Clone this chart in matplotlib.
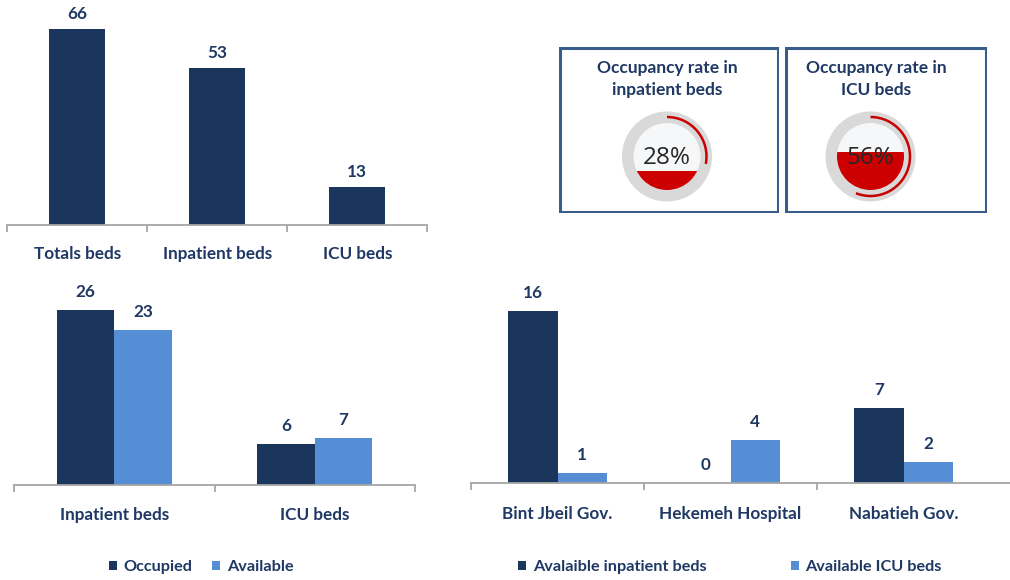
import matplotlib
matplotlib.use("Agg")
import matplotlib.pyplot as plt
from matplotlib.patches import Circle, Rectangle, Arc, Patch
import numpy as np

plt.rcParams['font.family'] = ['Lato', 'DejaVu Sans']

# ---------------- data ----------------
totals_cats = ["Totals beds", "Inpatient beds", "ICU beds"]
totals_vals = [66, 53, 13]

occ_cats = ["Inpatient beds", "ICU beds"]
occupied = [26, 6]
available = [23, 7]
occ_legend = ["Occupied", "Available"]

hosp_cats = ["Bint Jbeil Gov.", "Hekemeh Hospital", "Nabatieh Gov."]
avail_inpatient = [16, 0, 7]
avail_icu = [1, 4, 2]
hosp_legend = ["Avalaible inpatient beds", "Available ICU beds"]

gauge_titles = ["Occupancy rate in\ninpatient beds", "Occupancy rate in\nICU beds"]
gauge_pcts = [28, 56]

# ---------------- style ----------------
NAVY = "#1B365D"
LIGHT = "#558ED5"
TXT = "#1F3864"
AXC = "#A6A6A6"
RED = "#C80000"
W, H = 1010, 580
FS = 12.3

fig = plt.figure(figsize=(W / 100, H / 100), dpi=100)


def px_axes(x0, x1, ybase, ytop):
    return fig.add_axes([x0 / W, (H - ybase) / H, (x1 - x0) / W, (ybase - ytop) / H])


def style_axes(ax, ncat, cats, pad, nminor=None):
    ax.set_xlim(-0.5, ncat - 0.5)
    for s in ["top", "right", "left"]:
        ax.spines[s].set_visible(False)
    ax.spines["bottom"].set_color(AXC)
    ax.spines["bottom"].set_linewidth(1.3)
    ax.set_yticks([])
    ax.set_xticks(range(ncat))
    ax.set_xticklabels(cats, fontsize=FS, fontweight="bold", color=TXT)
    ax.tick_params(axis="x", which="major", length=0, pad=pad)
    mt = np.arange(-0.5, ncat, 1.0)
    if nminor is not None:
        mt = mt[:nminor]
    ax.set_xticks(mt, minor=True)
    ax.tick_params(axis="x", which="minor", length=5, color=AXC, width=1.3)
    ax.patch.set_alpha(0)


def label_bars(ax, bars, vals, off):
    for b, v in zip(bars, vals):
        ax.annotate(str(v), (b.get_x() + b.get_width() / 2, b.get_height()),
                    xytext=(0, off), textcoords="offset pixels",
                    ha="center", va="center", fontsize=FS, fontweight="bold", color=TXT)


# ---- chart 1 ----
ax1 = px_axes(7.3, 427.3, 225.3, 225.3 - 70 * 2.97)
ax1.set_ylim(0, 70)
b1 = ax1.bar(range(3), totals_vals, width=0.4, color=NAVY)
label_bars(ax1, b1, totals_vals, 15)
style_axes(ax1, 3, totals_cats, 15)

# ---- chart 2 ----
ax2 = px_axes(14, 415, 484.7, 484.7 - 28 * 6.72)
ax2.set_ylim(0, 28)
x2 = np.arange(2)
bw2 = 0.287
b2a = ax2.bar(x2 - bw2 / 2, occupied, width=bw2, color=NAVY, label=occ_legend[0])
b2b = ax2.bar(x2 + bw2 / 2, available, width=bw2, color=LIGHT, label=occ_legend[1])
label_bars(ax2, b2a, occupied, 18)
label_bars(ax2, b2b, available, 18)
style_axes(ax2, 2, occ_cats, 16)

# ---- chart 3 ----
ax3 = px_axes(471, 990, 483.3, 483.3 - 17 * 10.75)
ax3.set_ylim(0, 17)
x3 = np.arange(3)
bw3 = 0.286
b3a = ax3.bar(x3 - bw3 / 2, avail_inpatient, width=bw3, color=NAVY, label=hosp_legend[0])
b3b = ax3.bar(x3 + bw3 / 2, avail_icu, width=bw3, color=LIGHT, label=hosp_legend[1])
label_bars(ax3, b3a, avail_inpatient, 18)
label_bars(ax3, b3b, avail_icu, 18)
style_axes(ax3, 3, hosp_cats, 16, nminor=3)
ax3.spines["bottom"].set_bounds(-0.5, 2.62)

# ---- legends ----
def make_legend(labels, x, y, colspacing):
    handles = [Patch(facecolor=NAVY, edgecolor="none"), Patch(facecolor=LIGHT, edgecolor="none")]
    leg = fig.legend(handles, labels, loc="center left", bbox_to_anchor=(x / W, (H - y) / H),
                     ncol=2, frameon=False, handlelength=0.5, handleheight=0.5,
                     handletextpad=0.4, columnspacing=colspacing, borderpad=0, borderaxespad=0,
                     prop={"size": 11.7, "weight": "bold"})
    for t in leg.get_texts():
        t.set_color(TXT)


make_legend(occ_legend, 109, 567, 1.2)
make_legend(hosp_legend, 518, 567, 5.2)

# ---- gauges ----
boxes = [(559, 779), (785, 987)]
centers = [(667, 156.5), (870.5, 156.5)]
title_x = [667, 876]
for (bx0, bx1), (cx, cy), tx, title, pct in zip(boxes, centers, title_x, gauge_titles, gauge_pcts):
    by0, by1 = 47, 213
    gw, gh = bx1 - bx0, by1 - by0
    ga = fig.add_axes([bx0 / W, (H - by1) / H, gw / W, gh / H])
    ga.set_xlim(0, gw)
    ga.set_ylim(0, gh)
    ga.set_aspect("equal")
    ga.axis("off")
    ga.add_patch(Rectangle((1.2, 1.2), gw - 2.4, gh - 2.4, fill=False, edgecolor="#385D8A", lw=2.2))
    ccx, ccy = cx - bx0, by1 - cy
    ga.text(tx - bx0, gh - 32, title, ha="center", va="center", fontsize=12.5,
            fontweight="bold", color=TXT, linespacing=1.45)
    r_out, r_in = 45, 33.5
    ga.add_patch(Circle((ccx, ccy), r_out, facecolor="#D9D9D9", edgecolor="none"))
    face = Circle((ccx, ccy), r_in, facecolor="#F6F7F9", edgecolor="none")
    ga.add_patch(face)
    fill = Rectangle((ccx - r_in, ccy - r_in), 2 * r_in, 2 * r_in * pct / 100,
                     facecolor="#CC0000", edgecolor="none")
    ga.add_patch(fill)
    fill.set_clip_path(face)
    ga.add_patch(Arc((ccx, ccy), 2 * 39.5, 2 * 39.5, theta1=90 - 360 * pct / 100, theta2=90,
                     color=RED, lw=1.8))
    ga.text(ccx, ccy - 1, f"{pct}%", ha="center", va="center", fontsize=17.5,
            color="#262626", family=["Open Sans", "DejaVu Sans"])

fig.savefig("out.png", dpi=100)
